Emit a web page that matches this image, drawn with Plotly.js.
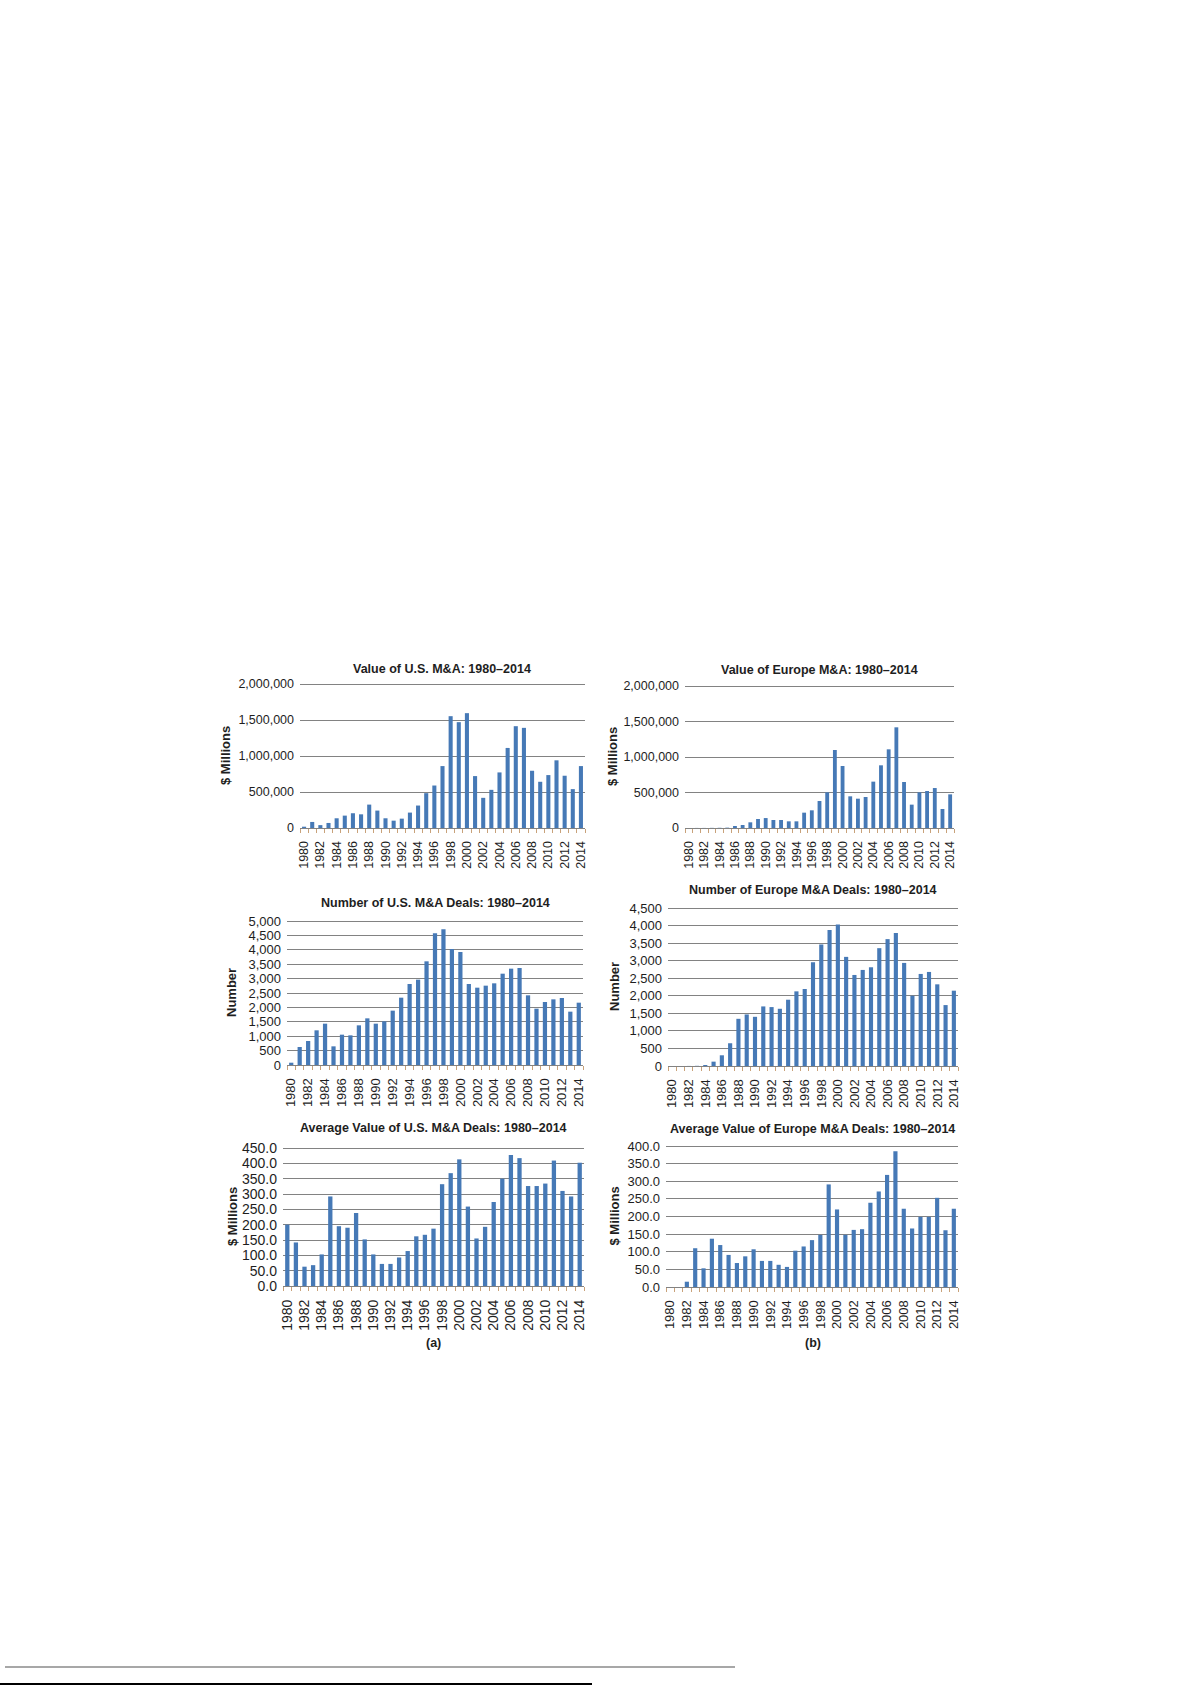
<!DOCTYPE html>
<html>
<head>
<meta charset="utf-8">
<script src="https://cdn.plot.ly/plotly-3.0.1.min.js"></script>
<style>
  html, body { margin: 0; padding: 0; background: #ffffff; }
  #chart { width: 1191px; height: 1685px; }
</style>
</head>
<body>
<div id="chart"></div>
<script>
// ---------- DATA ----------
const years = [1980,1981,1982,1983,1984,1985,1986,1987,1988,1989,
               1990,1991,1992,1993,1994,1995,1996,1997,1998,1999,
               2000,2001,2002,2003,2004,2005,2006,2007,2008,2009,
               2010,2011,2012,2013,2014];

const yearTickVals = [1980,1982,1984,1986,1988,1990,1992,1994,1996,1998,
                      2000,2002,2004,2006,2008,2010,2012,2014];
const yearTickText = ["1980","1982","1984","1986","1988","1990","1992","1994","1996","1998",
                      "2000","2002","2004","2006","2008","2010","2012","2014"];

// Value of U.S. M&A ($ millions)
const usValue = [18000, 84000, 40000, 70000, 135000, 172000, 205000, 190000, 325000, 242000,
                 135000, 102000, 130000, 214000, 312000, 484000, 590000, 860000, 1553000, 1470000,
                 1595000, 721000, 419000, 530000, 772000, 1112000, 1414000, 1391000, 795000, 642000,
                 735000, 940000, 726000, 540000, 860000];

// Value of Europe M&A ($ millions)
const euValue = [0, 1000, 1000, 2000, 3000, 5000, 28000, 42000, 80000, 127000,
                 140000, 113000, 113000, 94000, 94000, 216000, 249000, 380000, 502000, 1099000,
                 873000, 446000, 413000, 437000, 653000, 883000, 1108000, 1418000, 648000, 329000,
                 502000, 521000, 563000, 268000, 474000];

// Number of U.S. M&A deals
const usNumber = [80, 625, 833, 1204, 1435, 648, 1053, 1030, 1377, 1620,
                  1435, 1516, 1887, 2338, 2813, 2963, 3600, 4572, 4711, 4028,
                  3924, 2813, 2685, 2755, 2836, 3171, 3345, 3368, 2419, 1956,
                  2188, 2280, 2326, 1852, 2164];

// Number of Europe M&A deals
const euNumber = [0, 0, 2, 5, 29, 124, 305, 648, 1344, 1468,
                  1401, 1697, 1678, 1630, 1888, 2126, 2193, 2955, 3461, 3871,
                  4033, 3108, 2593, 2736, 2812, 3356, 3614, 3785, 2936, 2002,
                  2622, 2679, 2326, 1735, 2145];

// Average value of U.S. M&A deals ($ millions)
const usAvg = [200, 142, 63, 68, 103, 292, 195, 190, 238, 152,
               103, 72, 72, 93, 114, 162, 167, 187, 332, 368,
               413, 259, 155, 193, 274, 350, 427, 417, 326, 326,
               334, 409, 310, 292, 402];

// Average value of Europe M&A deals ($ millions)
const euAvg = [0, 0, 15, 110, 53, 137, 119, 91, 68, 87,
               107, 74, 74, 63, 57, 103, 115, 133, 148, 291,
               220, 148, 162, 164, 239, 271, 318, 385, 222, 166,
               199, 199, 253, 161, 222];

// Titles
const titles = [
  "Value of U.S. M&A: 1980–2014",
  "Value of Europe M&A: 1980–2014",
  "Number of U.S. M&A Deals: 1980–2014",
  "Number of Europe M&A Deals: 1980–2014",
  "Average Value of U.S. M&A Deals: 1980–2014",
  "Average Value of Europe M&A Deals: 1980–2014"
];
const yTitles = ["$ Millions", "$ Millions", "Number", "Number", "$ Millions", "$ Millions"];
const seriesList = [usValue, euValue, usNumber, euNumber, usAvg, euAvg];

// ---------- LAYOUT HELPERS ----------
const W = 1191, H = 1685;
const px = v => v / W;
const py = v => (H - v) / H;

// plot-area boxes in page pixels: [left, right, top, bottom]
const boxes = [
  [300, 585, 684, 828],
  [685, 954, 686, 828],
  [287, 583, 921, 1065],
  [668, 958, 908, 1066],
  [283, 584, 1148, 1286],
  [666, 958, 1146, 1287]
];
const yMax = [2000000, 2000000, 5000, 4500, 450, 400];
const yDticks = [500000, 500000, 500, 500, 50, 50];
const yFormats = [",d", ",d", ",d", ",d", ".1f", ".1f"];
const tickFont = [12.5, 12.5, 13, 13, 14, 13];
const titleY = [669, 670, 903, 890, 1128, 1129];
const yTitleX = [225, 612, 231, 615, 232, 614];
const PAD = 3; // extra px above the top gridline so it is not clipped

const FONT = "Liberation Sans, Arial, sans-serif";
const BAR = "#4679b6";
const GRID = "#828282";

const traces = [];
const layout = {
  width: W, height: H,
  margin: {l: 0, r: 0, t: 0, b: 0, pad: 0},
  paper_bgcolor: "#ffffff",
  plot_bgcolor: "rgba(0,0,0,0)",
  showlegend: false,
  bargap: 0.5,
  font: {family: FONT, color: "#1e1e1e"},
  annotations: [],
  shapes: []
};

for (let i = 0; i < 6; i++) {
  const n = i === 0 ? "" : String(i + 1);
  const [l, r, t, b] = boxes[i];
  const hgt = b - t;
  traces.push({
    type: "bar",
    x: years,
    y: seriesList[i],
    xaxis: "x" + n,
    yaxis: "y" + n,
    marker: {color: BAR, line: {width: 0}},
    hoverinfo: "x+y"
  });
  layout["xaxis" + n] = {
    domain: [px(l), px(r)],
    anchor: "y" + n,
    range: [1979.5, 2014.5],
    tickmode: "array",
    tickvals: yearTickVals,
    ticktext: yearTickText,
    tickangle: -90,
    ticks: "",
    ticklabelstandoff: 7,
    tickfont: {family: FONT, size: tickFont[i], color: "#1e1e1e"},
    showgrid: false,
    zeroline: false,
    showline: true,
    linecolor: GRID,
    linewidth: 1,
    minor: {tickmode: "linear", tick0: 1979.5, dtick: 1, ticks: "outside",
            ticklen: 4, tickwidth: 1, tickcolor: "#c9a27a", showgrid: false},
    fixedrange: true
  };
  layout["yaxis" + n] = {
    domain: [py(b), py(t - PAD)],
    anchor: "x" + n,
    range: [0, yMax[i] * (hgt + PAD) / hgt],
    dtick: yDticks[i],
    tick0: 0,
    tickformat: yFormats[i],
    ticks: "",
    ticklabelstandoff: 5,
    tickfont: {family: FONT, size: tickFont[i], color: "#1e1e1e"},
    showgrid: true,
    gridcolor: GRID,
    gridwidth: 1,
    zeroline: false,
    showline: false,
    fixedrange: true
  };
  // chart title
  layout.annotations.push({
    xref: "paper", yref: "paper",
    x: px((l + r) / 2), y: py(titleY[i]),
    xanchor: "center", yanchor: "middle",
    text: "<b>" + titles[i].replace(/&/g, "&amp;") + "</b>",
    showarrow: false,
    font: {family: FONT, size: 12.5, color: "#1e1e1e"}
  });
  // y-axis title
  layout.annotations.push({
    xref: "paper", yref: "paper",
    x: px(yTitleX[i]), y: py((t + b) / 2),
    xanchor: "center", yanchor: "middle",
    textangle: -90,
    text: "<b>" + yTitles[i] + "</b>",
    showarrow: false,
    font: {family: FONT, size: 13, color: "#1e1e1e"}
  });
}

// panel labels
layout.annotations.push({
  xref: "paper", yref: "paper", x: px(433), y: py(1343),
  xanchor: "center", yanchor: "middle", showarrow: false,
  text: "<b>(a)</b>", font: {family: FONT, size: 12.5, color: "#1e1e1e"}
});
layout.annotations.push({
  xref: "paper", yref: "paper", x: px(813), y: py(1343),
  xanchor: "center", yanchor: "middle", showarrow: false,
  text: "<b>(b)</b>", font: {family: FONT, size: 12.5, color: "#1e1e1e"}
});

// page edge lines from the scan
layout.shapes.push({type: "line", xref: "paper", yref: "paper",
  x0: px(5), x1: px(735), y0: py(1667), y1: py(1667),
  line: {color: "#8a8a8a", width: 1.5}});
layout.shapes.push({type: "line", xref: "paper", yref: "paper",
  x0: 0, x1: px(592), y0: py(1684), y1: py(1684),
  line: {color: "#000000", width: 2}});

Plotly.newPlot("chart", traces, layout, {displayModeBar: false, staticPlot: true});
</script>
</body>
</html>
